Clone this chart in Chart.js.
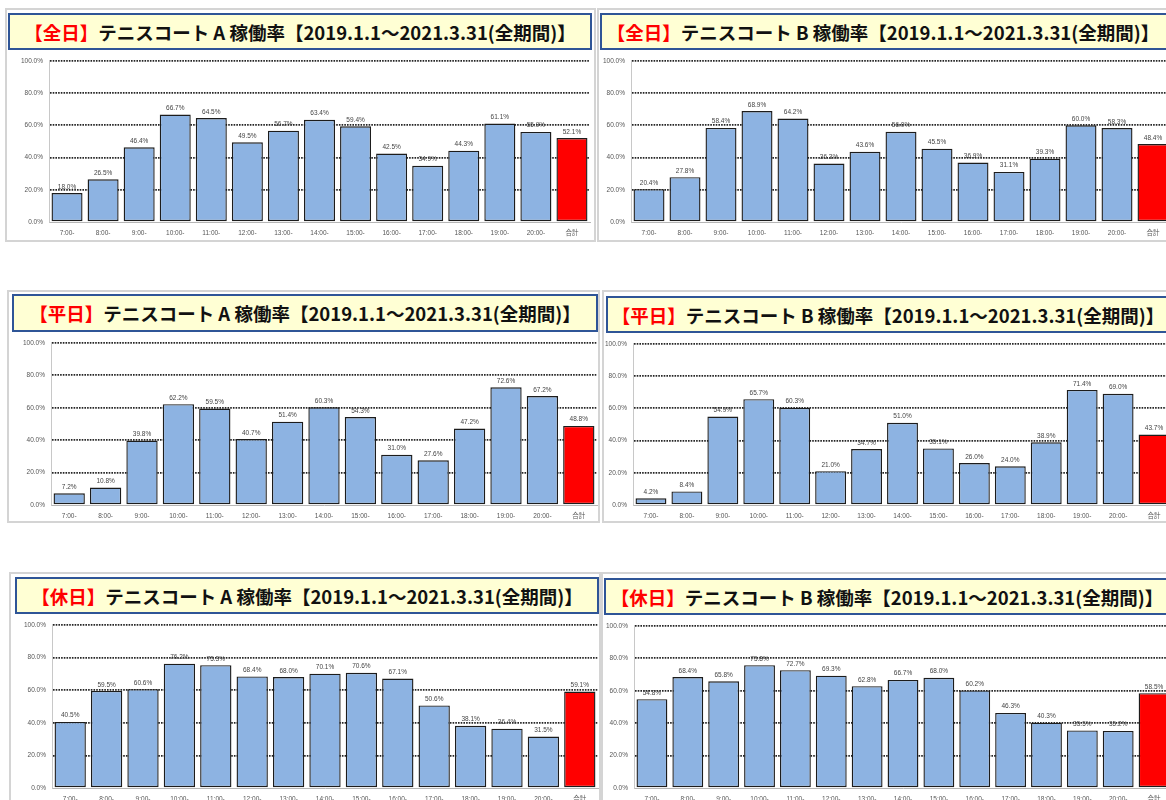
<!DOCTYPE html>
<html lang="ja">
<head>
<meta charset="utf-8">
<script src="https://cdn.jsdelivr.net/npm/chart.js@4.4.1/dist/chart.umd.min.js"></script>
<style>
  html, body { margin:0; padding:0; background:#fff; }
  body { width:1166px; height:800px; overflow:hidden; position:relative; }
  .panel { position:absolute; border:2px solid #d4d4d4; box-sizing:border-box; background:#fff; }
  .title { position:absolute; box-sizing:border-box; border:2px solid #2f5597; background:#ffffd4;
           font-family:"Noto Sans CJK JP", sans-serif; font-weight:bold; font-size:18.5px; color:#111;
           display:flex; align-items:center; justify-content:center; white-space:nowrap; }
  .title .red { color:#ff0000; }
  canvas { position:absolute; }
</style>
</head>
<body>
<script>
// ---------- データ ----------
const hours = ['7:00-','8:00-','9:00-','10:00-','11:00-','12:00-','13:00-','14:00-','15:00-','16:00-','17:00-','18:00-','19:00-','20:00-','合計'];
const yTicks = [0, 20, 40, 60, 80, 100];

const allA     = [18.0, 26.5, 46.4, 66.7, 64.5, 49.5, 56.7, 63.4, 59.4, 42.5, 34.9, 44.3, 61.1, 55.9, 52.1];
const allB     = [20.4, 27.8, 58.4, 68.9, 64.2, 36.3, 43.6, 56.0, 45.5, 36.9, 31.1, 39.3, 60.0, 58.3, 48.4];
const weekdayA = [7.2, 10.8, 39.8, 62.2, 59.5, 40.7, 51.4, 60.3, 54.3, 31.0, 27.6, 47.2, 72.6, 67.2, 48.8];
const weekdayB = [4.2, 8.4, 54.9, 65.7, 60.3, 21.0, 34.7, 51.0, 35.1, 26.0, 24.0, 38.9, 71.4, 69.0, 43.7];
const holidayA = [40.5, 59.5, 60.6, 76.2, 75.3, 68.4, 68.0, 70.1, 70.6, 67.1, 50.6, 38.1, 36.4, 31.5, 59.1];
const holidayB = [54.8, 68.4, 65.8, 75.8, 72.7, 69.3, 62.8, 66.7, 68.0, 60.2, 46.3, 40.3, 35.5, 35.2, 58.5];

const dayTypes = ['【全日】','【全日】','【平日】','【平日】','【休日】','【休日】'];
const courts   = ['A','B','A','B','A','B'];
const period   = '【2019.1.1～2021.3.31(全期間)】';
const series   = [allA, allB, weekdayA, weekdayB, holidayA, holidayB];

// ---------- レイアウト（位置のみ） ----------
const panels = [
  { box:[5,8,591,234],   title:[8,13,584,37,0],    axisX:49,  top:58,  bottom:222, right:590 },
  { box:[597,8,620,234], title:[600,13,584,37,-9], axisX:631, top:58,  bottom:222, right:1171 },
  { box:[7,290,593,233], title:[12,294,586,38,0],  axisX:51,  top:340, bottom:505, right:597 },
  { box:[602,290,620,233], title:[606,296,584,37,-10], axisX:633, top:340, bottom:505, right:1172 },
  { box:[9,572,592,240], title:[15,577,584,37,0],  axisX:52,  top:623, bottom:788, right:598 },
  { box:[601,572,620,240], title:[604,578,584,37,-9], axisX:634, top:623, bottom:788, right:1172 },
];

const valueLabels = {
  id: 'valueLabels',
  afterDatasetsDraw(chart) {
    const { ctx } = chart;
    const meta = chart.getDatasetMeta(0);
    const data = chart.data.datasets[0].data;
    ctx.save();
    ctx.font = '6.5px "Liberation Sans", sans-serif';
    ctx.fillStyle = '#444';
    ctx.textAlign = 'center';
    ctx.textBaseline = 'bottom';
    meta.data.forEach((bar, i) => {
      ctx.fillText(data[i].toFixed(1) + '%', bar.x, bar.y - 3);
    });
    ctx.restore();
  }
};

panels.forEach((p, k) => {
  const box = document.createElement('div');
  box.className = 'panel';
  Object.assign(box.style, { left:p.box[0]+'px', top:p.box[1]+'px', width:p.box[2]+'px', height:p.box[3]+'px' });
  document.body.appendChild(box);

  const t = document.createElement('div');
  t.className = 'title';
  const [tl, tt, tw, th, shift] = p.title;
  Object.assign(t.style, { left:tl+'px', top:tt+'px', width:tw+'px', height:th+'px' });
  if (shift < 0) t.style.paddingRight = (-2*shift) + 'px';
  t.innerHTML = '<span class="red">' + dayTypes[k] + '</span>テニスコート ' + courts[k] + ' 稼働率' + period;
  document.body.appendChild(t);

  const cv = document.createElement('canvas');
  const cLeft = p.box[0] + 2;
  const cTop = tt + th + 1;
  const cBottom = p.box[1] + p.box[3] - 2;
  const W = p.right + 4 - cLeft;
  const H = cBottom - cTop;
  cv.width = W; cv.height = H;
  Object.assign(cv.style, { left:cLeft+'px', top:cTop+'px', width:W+'px', height:H+'px' });
  document.body.appendChild(cv);

  const yw = p.axisX - cLeft;
  const xh = cBottom - p.bottom;
  const vals = series[k];

  new Chart(cv, {
    type: 'bar',
    data: {
      labels: hours,
      datasets: [{
        data: vals,
        backgroundColor: hours.map((h, i) => i === hours.length - 1 ? '#ff0000' : '#8db3e2'),
        borderColor: '#1c1c1c',
        borderWidth: 1.4,
        borderSkipped: false,
        categoryPercentage: 1,
        barPercentage: 0.86
      }]
    },
    options: {
      responsive: false,
      animation: false,
      devicePixelRatio: 1,
      layout: { padding: { top: p.top - cTop, right: 4, left: 0, bottom: 0 } },
      plugins: { legend: { display:false }, tooltip: { enabled:false } },
      scales: {
        x: {
          grid: { display:false, drawTicks:false },
          border: { display:true, color:'#b5b5b5', width:1 },
          ticks: { color:'#555', font:{ size:6.5, family:'"Liberation Sans", "Noto Sans CJK JP", sans-serif' }, maxRotation:0, autoSkip:false, padding:7 },
          afterFit: (s) => { s.height = xh; }
        },
        y: {
          min: 0, max: 100,
          afterBuildTicks: (s) => { s.ticks = yTicks.map(v => ({ value: v })); },
          grid: {
            color: (c) => c.tick && c.tick.value === 0 ? 'rgba(0,0,0,0)' : '#262626',
            lineWidth: 1.7,
            drawTicks: false
          },
          border: { display:true, color:'#c8c8c8', width:1, dash:[1.6,1.1] },
          ticks: { color:'#555', font:{ size:6.5, family:'"Liberation Sans", sans-serif' }, padding:6,
                   callback: (v) => Number(v).toFixed(1) + '%' },
          afterFit: (s) => { s.width = yw; }
        }
      }
    },
    plugins: [valueLabels]
  });
});
</script>
</body>
</html>
